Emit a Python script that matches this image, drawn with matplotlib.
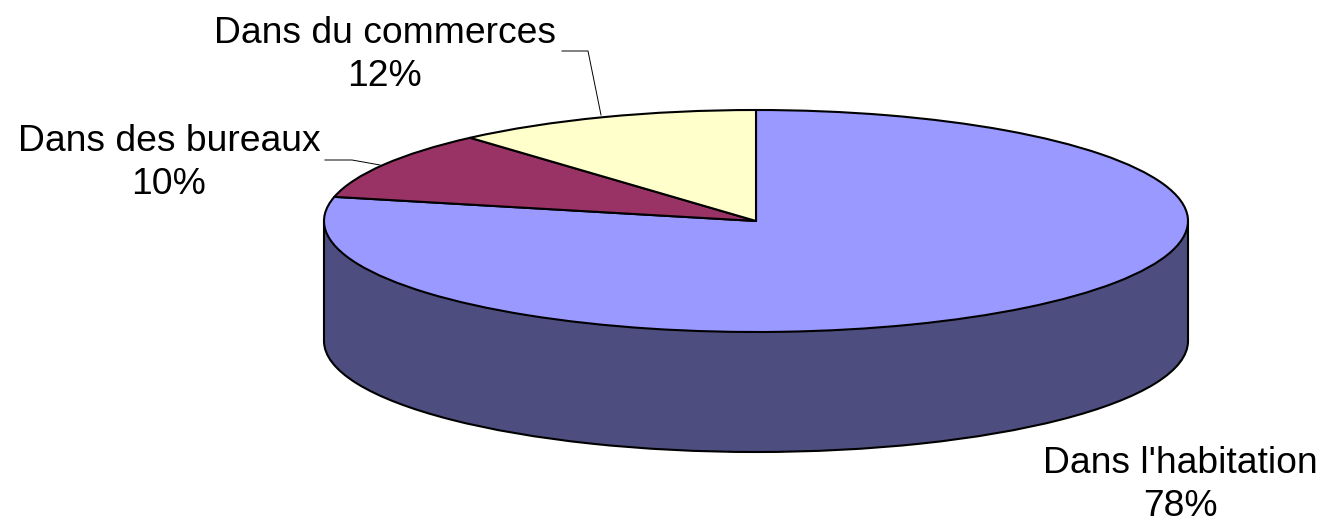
import matplotlib
matplotlib.use('Agg')
import matplotlib.pyplot as plt
from matplotlib.patches import Rectangle

labels = ["Dans l'habitation", "Dans des bureaux", "Dans du commerces"]
values = [78.49, 10.0, 11.51]
colors = ['#9999FF', '#993366', '#FFFFCC']
side_color = '#4D4D80'

W, H = 1324, 523
CX, CY = 756, 221   # centre of the top ellipse, px
RX, RY = 432, 111   # ellipse radii, px
DEPTH = 120         # pie thickness, px
LW = 1.5

plt.rcParams['font.family'] = ['Liberation Sans', 'DejaVu Sans']


def px(x, y):
    return (x - CX) / RX, (CY - y) / RY


fig = plt.figure(figsize=(W / 100, H / 100), dpi=100)
ax = fig.add_axes([0, 0, 1, 1])
edge = {'edgecolor': 'black', 'linewidth': LW, 'joinstyle': 'round'}
depth = DEPTH / RY

# bottom of the cylinder, then the wall, then the top face
ax.pie([sum(values)], startangle=90, center=(0, -depth),
       colors=[side_color], wedgeprops=edge)
ax.add_patch(Rectangle((-1, -depth), 2, depth, facecolor=side_color, edgecolor='none', zorder=2))
ax.plot([-1, -1], [-depth, 0], color='black', lw=LW, zorder=3)
ax.plot([1, 1], [-depth, 0], color='black', lw=LW, zorder=3)
wedges, _ = ax.pie(values, startangle=90, counterclock=False, center=(0, 0),
                   colors=colors, wedgeprops=edge)
for w in wedges:
    w.set_zorder(4)

ax.set_xlim(px(0, 0)[0], px(W, 0)[0])
ax.set_ylim(px(0, H)[1], px(0, 0)[1])
ax.set_aspect('auto')
ax.axis('off')

# leader lines
for pts in ([(562, 51), (588, 51), (601, 115)], [(325, 160), (352, 160), (380, 165)]):
    xy = [px(*p) for p in pts]
    ax.plot([p[0] for p in xy], [p[1] for p in xy], color='black', lw=0.7, zorder=3)

label_pos = [(1180, 485), (169, 163), (385, 55)]
for name, val, (x, y) in zip(labels, values, label_pos):
    tx, ty = px(x, y)
    ax.text(tx, ty, f"{name}\n{val:.0f}%", ha='center', va='center', fontsize=26.8,
            linespacing=1.33, color='black', zorder=6)

fig.savefig('out.png', dpi=100)
